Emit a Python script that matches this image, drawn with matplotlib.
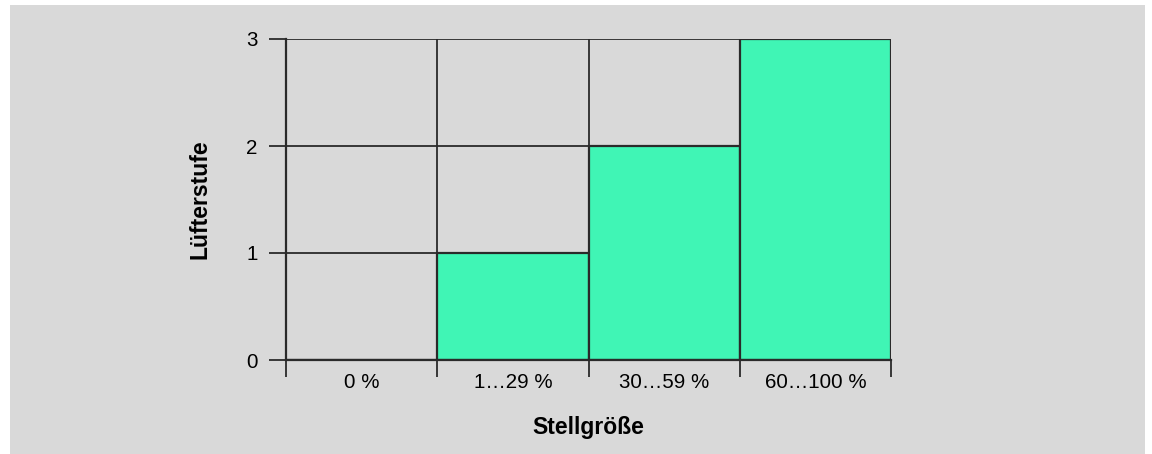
import numpy as np
import matplotlib
matplotlib.use("Agg")
import matplotlib.pyplot as plt
from matplotlib.patches import Rectangle

# data
categories = ["0 %", "1…29 %", "30…59 %", "60…100 %"]
levels = [0, 1, 2, 3]
y_ticks = [0, 1, 2, 3]

W, H = 1152, 454
bg = "#d9d9d9"
green = "#40f5b5"
line = "#2a2a2a"

plt.rcParams["font.family"] = ["Liberation Sans", "DejaVu Sans"]

fig = plt.figure(figsize=(W / 100, H / 100), dpi=100)
fig.patch.set_facecolor("white")
# grey panel behind the chart
fig.add_artist(Rectangle((10 / W, 0), (1145 - 10) / W, (H - 5) / H,
                         transform=fig.transFigure, facecolor=bg,
                         edgecolor="none", zorder=-10))

ax = fig.add_axes([286 / W, 1 - 360 / H, (891 - 286) / W, (360 - 39) / H])
ax.set_facecolor("none")

x = np.arange(len(categories))
ax.bar(x, levels, width=1.0, align="edge", color=green,
       edgecolor=line, linewidth=1.6, zorder=3)

ax.set_xlim(0, len(categories))
ax.set_ylim(0, 3)

# grid lines
for yv in y_ticks[1:]:
    ax.axhline(yv, color=line, linewidth=1.3, zorder=1)
for xv in x[1:]:
    ax.axvline(xv, color=line, linewidth=1.3, zorder=1)

for s in ["top", "right"]:
    ax.spines[s].set_visible(False)
for s in ["left", "bottom"]:
    ax.spines[s].set_color(line)
    ax.spines[s].set_linewidth(1.6)
    ax.spines[s].set_zorder(4)

ax.set_yticks(y_ticks)
ax.tick_params(axis="y", length=12.5, width=1.3, color=line, pad=8,
               labelsize=14.8)

ax.set_xticks(np.arange(len(categories) + 1))
ax.set_xticklabels([])
ax.set_xticks(x + 0.5, minor=True)
ax.set_xticklabels(categories, minor=True)
ax.tick_params(axis="x", which="major", length=12, width=1.3, color=line)
ax.tick_params(axis="x", which="minor", length=0, pad=9.5, labelsize=14.8)

ax.set_xlabel("Stellgröße", fontsize=16.5, fontweight="bold", labelpad=17)
ax.set_ylabel("Lüfterstufe", fontsize=16.5, fontweight="bold", labelpad=25)

fig.savefig("out.png", dpi=100, facecolor=fig.get_facecolor())
